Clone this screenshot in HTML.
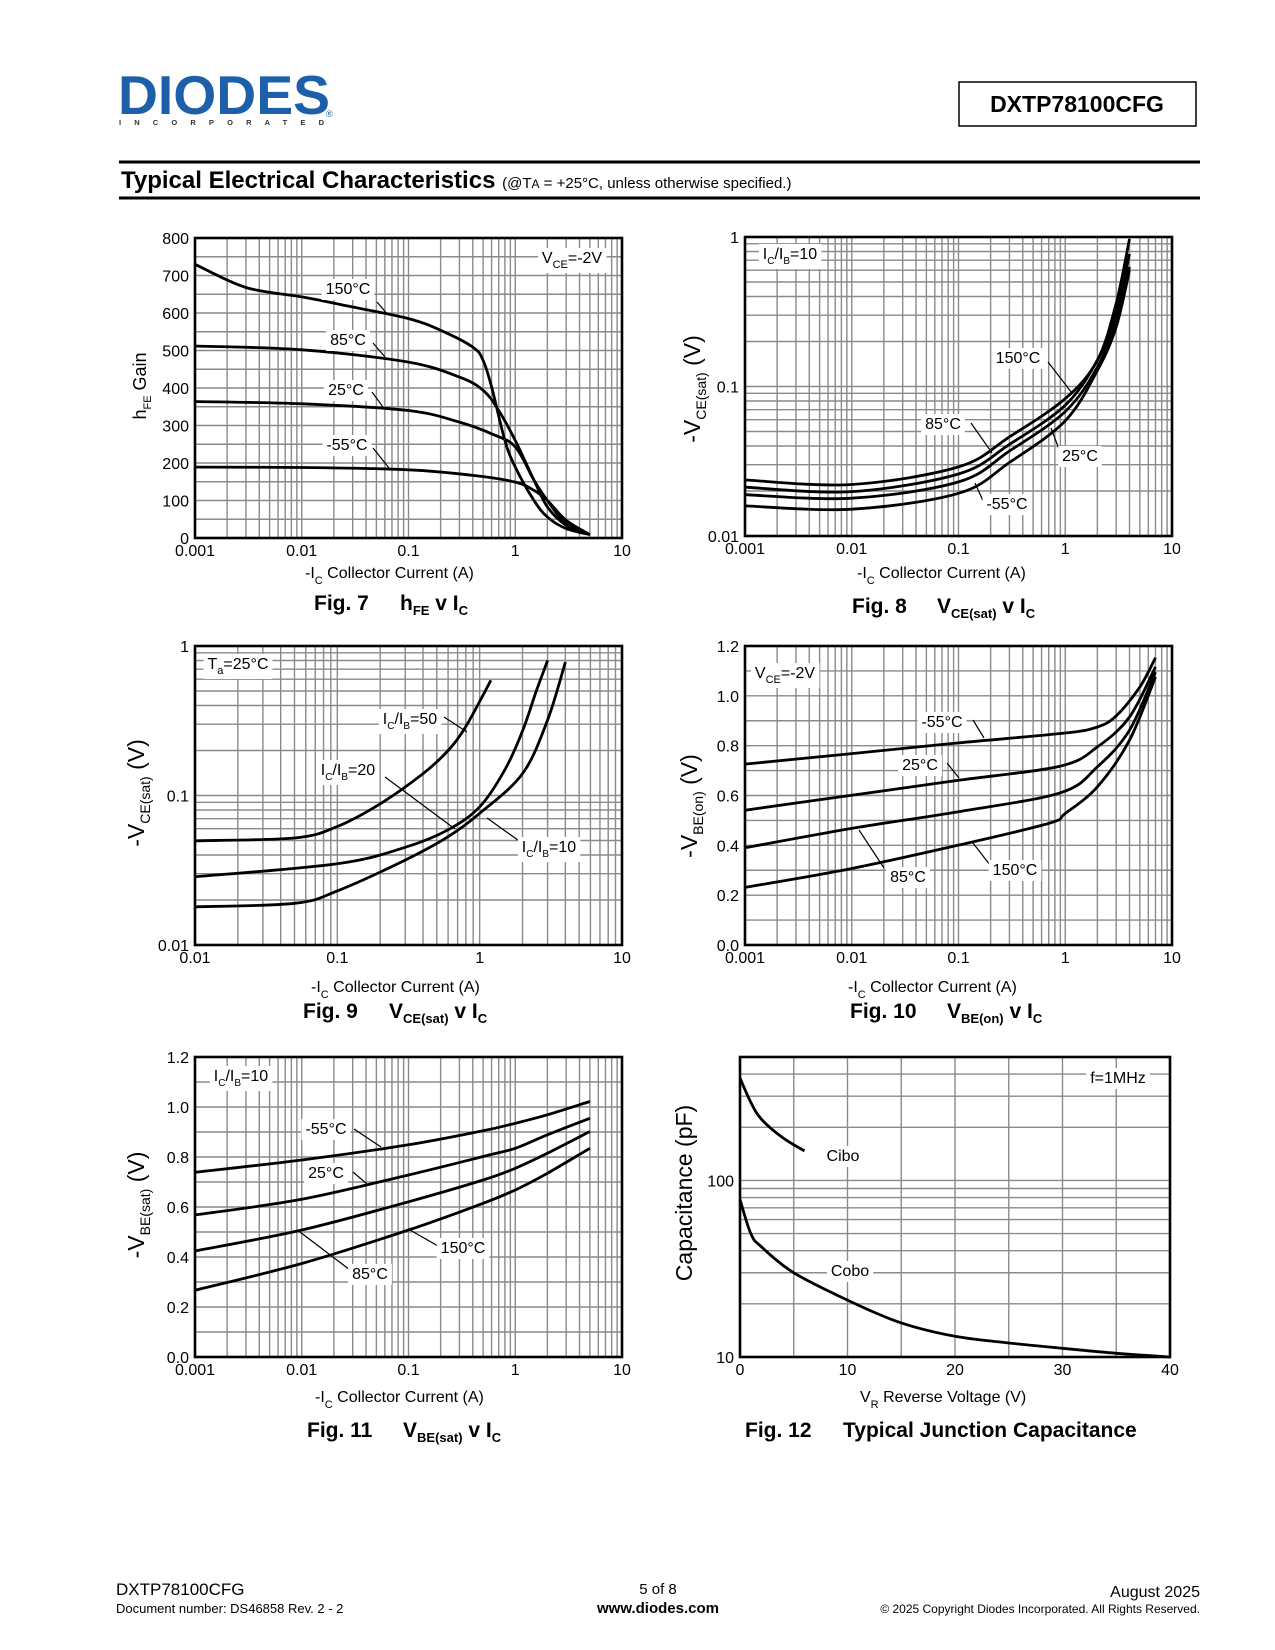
<!DOCTYPE html>
<html><head><meta charset="utf-8">
<style>
html,body{margin:0;padding:0;background:#fff;}
svg{display:block;font-family:"Liberation Sans",Arial,sans-serif;}
.tk{font-size:16px;fill:#000;}
.lbl{font-size:16px;fill:#000;}
.cap{font-size:21px;font-weight:bold;fill:#000;}
.ax{font-size:16px;fill:#000;}
</style></head>
<body>
<svg id="page" width="1275" height="1650" viewBox="0 0 1275 1650" xmlns="http://www.w3.org/2000/svg">
<rect x="0" y="0" width="1275" height="1650" fill="#fff"/>
<!-- header -->
<g>
<text x="118" y="114" font-size="55" font-weight="bold" fill="#1d5fa8" textLength="212" lengthAdjust="spacingAndGlyphs">DIODES</text>
<text x="119" y="125" font-size="7.5" font-weight="bold" fill="#333" textLength="205" lengthAdjust="spacing">INCORPORATED</text>
<text x="326" y="117" font-size="9" fill="#1d5fa8">®</text>
</g>
<rect x="959" y="82" width="237" height="44" fill="none" stroke="#000" stroke-width="1.5"/>
<text x="1077" y="112" text-anchor="middle" font-size="23" font-weight="bold">DXTP78100CFG</text>
<line x1="119" y1="162" x2="1200" y2="162" stroke="#000" stroke-width="3"/>
<text x="121" y="188" font-size="24" font-weight="bold">Typical Electrical Characteristics <tspan font-size="15" font-weight="normal">(@T<tspan font-size="12">A</tspan> = +25°C, unless otherwise specified.)</tspan></text>
<line x1="119" y1="198" x2="1200" y2="198" stroke="#000" stroke-width="3"/>

<g id="charts"></g>

<!-- static text: fig 7 -->
<text class="ax" transform="translate(146,386) rotate(-90)" text-anchor="middle" style="font-size:18px">h<tspan font-size="11" dy="5">FE</tspan><tspan dy="-5"> Gain</tspan></text>
<text class="ax" x="305" y="578">-I<tspan font-size="11" dy="6">C</tspan><tspan dy="-6">   Collector Current (A)</tspan></text>
<text class="cap" x="314" y="610">Fig. 7</text>
<text class="cap" x="400" y="610">h<tspan font-size="13" dy="5">FE</tspan><tspan dy="-5">  v  I</tspan><tspan font-size="13" dy="5">C</tspan></text>

<text class="ax" transform="translate(700,389) rotate(-90)" text-anchor="middle" style="font-size:23px">-V<tspan font-size="14" dy="6">CE(sat)</tspan><tspan dy="-6"> (V)</tspan></text>
<text class="ax" x="857" y="578">-I<tspan font-size="11" dy="6">C</tspan><tspan dy="-6">   Collector Current (A)</tspan></text>
<text class="cap" x="852" y="613">Fig. 8</text>
<text class="cap" x="937" y="613">V<tspan font-size="13" dy="5">CE(sat)</tspan><tspan dy="-5">  v  I</tspan><tspan font-size="13" dy="5">C</tspan></text>

<text class="ax" transform="translate(144,793) rotate(-90)" text-anchor="middle" style="font-size:23px">-V<tspan font-size="14" dy="6">CE(sat)</tspan><tspan dy="-6"> (V)</tspan></text>
<text class="ax" x="311" y="992">-I<tspan font-size="11" dy="6">C</tspan><tspan dy="-6">   Collector Current (A)</tspan></text>
<text class="cap" x="303" y="1018">Fig. 9</text>
<text class="cap" x="389" y="1018">V<tspan font-size="13" dy="5">CE(sat)</tspan><tspan dy="-5">  v  I</tspan><tspan font-size="13" dy="5">C</tspan></text>

<text class="ax" transform="translate(697,806) rotate(-90)" text-anchor="middle" style="font-size:23px">-V<tspan font-size="14" dy="6">BE(on)</tspan><tspan dy="-6"> (V)</tspan></text>
<text class="ax" x="848" y="992">-I<tspan font-size="11" dy="6">C</tspan><tspan dy="-6">   Collector Current (A)</tspan></text>
<text class="cap" x="850" y="1018">Fig. 10</text>
<text class="cap" x="947" y="1018">V<tspan font-size="13" dy="5">BE(on)</tspan><tspan dy="-5">  v  I</tspan><tspan font-size="13" dy="5">C</tspan></text>

<text class="ax" transform="translate(144,1205) rotate(-90)" text-anchor="middle" style="font-size:23px">-V<tspan font-size="14" dy="6">BE(sat)</tspan><tspan dy="-6"> (V)</tspan></text>
<text class="ax" x="315" y="1402">-I<tspan font-size="11" dy="6">C</tspan><tspan dy="-6">   Collector Current (A)</tspan></text>
<text class="cap" x="307" y="1437">Fig. 11</text>
<text class="cap" x="403" y="1437">V<tspan font-size="13" dy="5">BE(sat)</tspan><tspan dy="-5">  v  I</tspan><tspan font-size="13" dy="5">C</tspan></text>

<text class="ax" transform="translate(692,1193) rotate(-90)" text-anchor="middle" style="font-size:23px">Capacitance (pF)</text>
<text class="ax" x="860" y="1402">V<tspan font-size="11" dy="6">R</tspan><tspan dy="-6">    Reverse Voltage (V)</tspan></text>
<text class="cap" x="745" y="1437">Fig. 12<tspan x="843">Typical Junction Capacitance</tspan></text>

<!-- footer -->
<text x="116" y="1595" font-size="17">DXTP78100CFG</text>
<text x="116" y="1613" font-size="13">Document number: DS46858 Rev. 2 - 2</text>
<text x="658" y="1594" font-size="15" text-anchor="middle">5 of 8</text>
<text x="658" y="1613" font-size="15" font-weight="bold" text-anchor="middle">www.diodes.com</text>
<text x="1200" y="1597" font-size="16" text-anchor="end">August 2025</text>
<text x="1200" y="1613" font-size="12" text-anchor="end">© 2025 Copyright Diodes Incorporated. All Rights Reserved.</text>
</svg>

<script>
// ---------- Fig 7 data: hFE vs Ic ----------
const fig7I150 = [0.001,0.003,0.01,0.03,0.1,0.2,0.4,0.5,0.6,0.8,1,1.5,2,3,5];
const fig7H150 = [730,668,643,616,585,554,509,474,403,260,189,100,56,25,9];
const fig7I85 = [0.001,0.01,0.1,0.3,0.5,0.7,1,1.5,2,3,5];
const fig7H85 = [512,502,469,429,394,340,260,154,83,34,9];
const fig7I25 = [0.001,0.01,0.1,0.3,0.6,1,1.5,2,3,5];
const fig7H25 = [364,358,340,309,278,243,154,100,38,9];
const fig7Im55 = [0.001,0.01,0.1,0.4,1,1.5,2,3,5];
const fig7Hm55 = [189,188,182,167,149,127,100,47,9];
const fig7YTicks = [0,100,200,300,400,500,600,700,800];
const logXTicks3 = ["0.001","0.01","0.1","1","10"];
// ---------- Fig 8 data: Vce(sat) vs Ic ----------
const fig8I = [0.001,0.01,0.1,0.3,1,2,3,4];
const fig8V150 = [0.0237,0.0221,0.029,0.046,0.083,0.15,0.36,0.97];
const fig8V85 = [0.0212,0.0198,0.026,0.041,0.075,0.15,0.31,0.77];
const fig8V25 = [0.0189,0.0179,0.023,0.037,0.068,0.135,0.28,0.63];
const fig8Vm55 = [0.0159,0.0151,0.0193,0.031,0.059,0.128,0.25,0.6];
const fig8YTicks = ["0.01","0.1","1"];
// ---------- Fig 9 data ----------
const fig9I50 = [0.01,0.05,0.1,0.2,0.4,0.6,0.8,1.2];
const fig9V50 = [0.0498,0.052,0.062,0.088,0.14,0.20,0.29,0.59];
const fig9I20 = [0.01,0.1,0.3,0.6,1,1.5,2,2.5,3];
const fig9V20 = [0.0286,0.035,0.045,0.059,0.084,0.148,0.27,0.50,0.80];
const fig9I10 = [0.01,0.05,0.1,0.3,0.6,1,2,3,4];
const fig9V10 = [0.018,0.019,0.023,0.037,0.053,0.076,0.14,0.32,0.78];
const fig9XTicks = ["0.01","0.1","1","10"];
// ---------- Fig 10 data ----------
const fig10Im55 = [0.001,0.01,0.1,1,2,3,5,7];
const fig10Vm55 = [0.726,0.768,0.811,0.851,0.875,0.92,1.036,1.153];
const fig10I25 = [0.001,0.01,0.1,0.9,2,4,7];
const fig10V25 = [0.541,0.601,0.661,0.718,0.795,0.915,1.116];
const fig10I85 = [0.001,0.01,0.1,0.9,2,4,7];
const fig10V85 = [0.39,0.468,0.535,0.611,0.715,0.862,1.096];
const fig10I150 = [0.001,0.01,0.1,0.7,1,2,4,7];
const fig10V150 = [0.231,0.307,0.401,0.488,0.528,0.635,0.822,1.076];
const linVTicks = ["0.0","0.2","0.4","0.6","0.8","1.0","1.2"];
// ---------- Fig 11 data ----------
const fig11I = [0.001,0.01,0.1,0.5,1,2,5];
const fig11Vm55 = [0.739,0.788,0.849,0.905,0.935,0.969,1.022];
const fig11V25 = [0.568,0.631,0.728,0.802,0.835,0.889,0.955];
const fig11V85 = [0.424,0.508,0.621,0.708,0.755,0.815,0.902];
const fig11V150 = [0.267,0.374,0.508,0.615,0.668,0.735,0.835];
// ---------- Fig 12 data ----------
const fig12VrCibo = [0,1,2,4,6];
const fig12Cibo = [380,277,222,174,147];
const fig12VrCobo = [0,1,2,5,10,15,20,25,30,35,40];
const fig12Cobo = [78,50,42,30,21,15.6,13.1,12.0,11.2,10.5,10];
const fig12XTicks = ["0","10","20","30","40"];
const fig12YTicks = ["10","100"];

const NS = "http://www.w3.org/2000/svg";
const root = document.getElementById('charts');
function el(tag, attrs, parent){const e=document.createElementNS(NS,tag);for(const k in attrs)e.setAttribute(k,attrs[k]);(parent||root).appendChild(e);return e;}

function makeChart(c){
  const lg=Math.log10;
  c.sx = c.xlog ? v=>c.x0+(lg(v)-lg(c.xmin))/(lg(c.xmax)-lg(c.xmin))*(c.x1-c.x0)
               : v=>c.x0+(v-c.xmin)/(c.xmax-c.xmin)*(c.x1-c.x0);
  c.sy = c.ylog ? v=>c.y1-(lg(v)-lg(c.ymin))/(lg(c.ymax)-lg(c.ymin))*(c.y1-c.y0)
               : v=>c.y1-(v-c.ymin)/(c.ymax-c.ymin)*(c.y1-c.y0);
  const g=el('g',{});
  
  
  const gs={stroke:'#8a8a8a','stroke-width':1.4};
  if(c.xlog){
    for(let d=lg(c.xmin);d<lg(c.xmax);d++){for(let k=1;k<10;k++){const v=k*Math.pow(10,d);const x=c.sx(v);
      const l=el('line',Object.assign({x1:x,y1:c.y0,x2:x,y2:c.y1},gs),g);
      
      }}
  } else {
    for(let v=c.xmin;v<=c.xmax+1e-9;v+=c.xgrid){const x=c.sx(v);
      const l=el('line',Object.assign({x1:x,y1:c.y0,x2:x,y2:c.y1},gs),g);
      
      }
  }
  if(c.ylog){
    const ks=c.yks||[1,2,3,4,5,6,7,8,9];
    for(let d=lg(c.ymin);d<lg(c.ymax);d++){for(const k of ks){const v=k*Math.pow(10,d);if(v>c.ymax)continue;const y=c.sy(v);
      const l=el('line',Object.assign({x1:c.x0,y1:y,x2:c.x1,y2:y},gs),g);
      
      }}
  } else {
    for(let v=c.ymin;v<=c.ymax+1e-9;v+=c.ygrid){const y=c.sy(v);
      const l=el('line',Object.assign({x1:c.x0,y1:y,x2:c.x1,y2:y},gs),g);
      
      }
  }
  c.xTicks.forEach(t=>{const tx=el('text',{x:c.sx(parseFloat(t)),y:c.y1+18,'text-anchor':'middle',class:'tk'});tx.textContent=t;
    
    });
  c.yTicks.forEach(t=>{const ty=el('text',{x:c.x0-6,y:c.sy(parseFloat(t))+6,'text-anchor':'end',class:'tk'});ty.textContent=t;
    
    });
  return c;
}
function frame(c){
  const r=el('rect',{x:c.x0,y:c.y0,width:c.x1-c.x0,height:c.y1-c.y0,fill:'none',stroke:'#000','stroke-width':2.6});
  
  
}
function curve(c,xs,ys,name){
  const p=xs.map((x,i)=>[c.sx(x),c.sy(ys[i])]);
  let d='M'+p[0][0].toFixed(1)+','+p[0][1].toFixed(1);
  for(let i=0;i<p.length-1;i++){
    const p0=p[i-1]||p[i],p1=p[i],p2=p[i+1],p3=p[i+2]||p[i+1];
    const c1=[p1[0]+(p2[0]-p0[0])/6,p1[1]+(p2[1]-p0[1])/6];
    const c2=[p2[0]-(p3[0]-p1[0])/6,p2[1]-(p3[1]-p1[1])/6];
    d+=' C'+c1[0].toFixed(1)+','+c1[1].toFixed(1)+' '+c2[0].toFixed(1)+','+c2[1].toFixed(1)+' '+p2[0].toFixed(1)+','+p2[1].toFixed(1);
  }
  const path=el('path',{d:d,fill:'none',stroke:'#000','stroke-width':2.8,'stroke-linejoin':'round'});
  
  
}
function leader(x1,y1,x2,y2){const l=el('line',{x1:x1,y1:y1,x2:x2,y2:y2,stroke:'#000','stroke-width':1.2});
  
  }
function label(cx,cy,html,name){
  const r=el('rect',{fill:'#fff'});
  const t=el('text',{x:cx,y:cy+6,'text-anchor':'middle',class:'lbl'});
  t.innerHTML=html;
  
  
  
  
  try{const b=t.getBBox();r.setAttribute('x',b.x-4);r.setAttribute('y',b.y-2);r.setAttribute('width',b.width+8);r.setAttribute('height',b.height+4);}catch(e){}
}
const sub=(a,s,b)=>a+'<tspan font-size="11" dy="5">'+s+'</tspan><tspan dy="-5">'+b+'</tspan>';
const icib=(n)=>'I<tspan font-size="10" dy="5">C</tspan><tspan dy="-5">/I</tspan><tspan font-size="10" dy="5">B</tspan><tspan dy="-5">='+n+'</tspan>';

// Fig 7
const c7=makeChart({name:'fig7',x0:195,x1:622,y0:238,y1:538,xlog:true,xmin:0.001,xmax:10,ymin:0,ymax:800,ygrid:50,xTicks:logXTicks3,yTicks:fig7YTicks.map(String)});
curve(c7,fig7I150,fig7H150,'fig7-curve-150c');
curve(c7,fig7I85,fig7H85,'fig7-curve-85c');
curve(c7,fig7I25,fig7H25,'fig7-curve-25c');
curve(c7,fig7Im55,fig7Hm55,'fig7-curve-m55c');
frame(c7);
leader(377,302,388,315);leader(373,343,385,357);leader(372,392,383,407);leader(373,448,389,468);
label(348,288,'150°C','fig7-label-150c');label(348,339,'85°C','fig7-label-85c');label(346,389,'25°C','fig7-label-25c');label(347,444,'-55°C','fig7-label-m55c');
label(572,257,sub('V','CE','=-2V'),'fig7-condition-label');

// Fig 8
const c8=makeChart({name:'fig8',x0:745,x1:1172,y0:237,y1:536,xlog:true,xmin:0.001,xmax:10,ylog:true,ymin:0.01,ymax:1,xTicks:logXTicks3,yTicks:fig8YTicks});
curve(c8,fig8I,fig8V150,'fig8-curve-150c');
curve(c8,fig8I,fig8V85,'fig8-curve-85c');
curve(c8,fig8I,fig8V25,'fig8-curve-25c');
curve(c8,fig8I,fig8Vm55,'fig8-curve-m55c');
frame(c8);
leader(1048,362,1072,393);leader(971,423,992,453);leader(1051,428,1062,457);leader(975,483,984,503);
label(790,253,icib(10),'fig8-condition-label');
label(1018,357,'150°C','fig8-label-150c');label(943,423,'85°C','fig8-label-85c');label(1080,455,'25°C','fig8-label-25c');label(1007,503,'-55°C','fig8-label-m55c');

// Fig 9
const c9=makeChart({name:'fig9',x0:195,x1:622,y0:646,y1:945,xlog:true,xmin:0.01,xmax:10,ylog:true,ymin:0.01,ymax:1,xTicks:fig9XTicks,yTicks:fig8YTicks});
curve(c9,fig9I50,fig9V50,'fig9-curve-ib50');
curve(c9,fig9I20,fig9V20,'fig9-curve-ib20');
curve(c9,fig9I10,fig9V10,'fig9-curve-ib10');
frame(c9);
leader(444,717,467,732);leader(385,777,455,829);leader(487,818,522,843);
label(238,663,'T<tspan font-size="11" dy="5">a</tspan><tspan dy="-5">=25°C</tspan>','fig9-condition-label');
label(410,718,icib(50),'fig9-label-ib50');label(348,769,icib(20),'fig9-label-ib20');label(549,846,icib(10),'fig9-label-ib10');

// Fig 10
const c10=makeChart({name:'fig10',x0:745,x1:1172,y0:646,y1:945,xlog:true,xmin:0.001,xmax:10,ymin:0,ymax:1.2,ygrid:0.1,xTicks:logXTicks3,yTicks:linVTicks});
curve(c10,fig10Im55,fig10Vm55,'fig10-curve-m55c');
curve(c10,fig10I25,fig10V25,'fig10-curve-25c');
curve(c10,fig10I85,fig10V85,'fig10-curve-85c');
curve(c10,fig10I150,fig10V150,'fig10-curve-150c');
frame(c10);
leader(973,720,984,738);leader(947,763,959,778);leader(859,830,884,868);leader(973,843,990,865);
label(785,672,sub('V','CE','=-2V'),'fig10-condition-label');
label(942,721,'-55°C','fig10-label-m55c');label(920,764,'25°C','fig10-label-25c');label(908,876,'85°C','fig10-label-85c');label(1015,869,'150°C','fig10-label-150c');

// Fig 11
const c11=makeChart({name:'fig11',x0:195,x1:622,y0:1057,y1:1357,xlog:true,xmin:0.001,xmax:10,ymin:0,ymax:1.2,ygrid:0.1,xTicks:logXTicks3,yTicks:linVTicks});
curve(c11,fig11I,fig11Vm55,'fig11-curve-m55c');
curve(c11,fig11I,fig11V25,'fig11-curve-25c');
curve(c11,fig11I,fig11V85,'fig11-curve-85c');
curve(c11,fig11I,fig11V150,'fig11-curve-150c');
frame(c11);
leader(354,1129,381,1147);leader(353,1172,367,1184);leader(438,1246,410,1230);leader(350,1270,300,1232);
label(241,1075,icib(10),'fig11-condition-label');
label(326,1128,'-55°C','fig11-label-m55c');label(326,1172,'25°C','fig11-label-25c');label(463,1247,'150°C','fig11-label-150c');label(370,1273,'85°C','fig11-label-85c');

// Fig 12
const c12=makeChart({name:'fig12',x0:740,x1:1170,y0:1057,y1:1357,xmin:0,xmax:40,xgrid:5,ylog:true,ymin:10,ymax:500,yks:[1,2,3,4,5,6,7,8,9],xTicks:fig12XTicks,yTicks:fig12YTicks});
curve(c12,fig12VrCibo,fig12Cibo,'fig12-curve-cibo');
curve(c12,fig12VrCobo,fig12Cobo,'fig12-curve-cobo');
frame(c12);
label(1118,1077,'f=1MHz','fig12-condition-label');
label(843,1155,'Cibo','fig12-label-cibo');
label(850,1270,'Cobo','fig12-label-cobo');
</script>
</body></html>
